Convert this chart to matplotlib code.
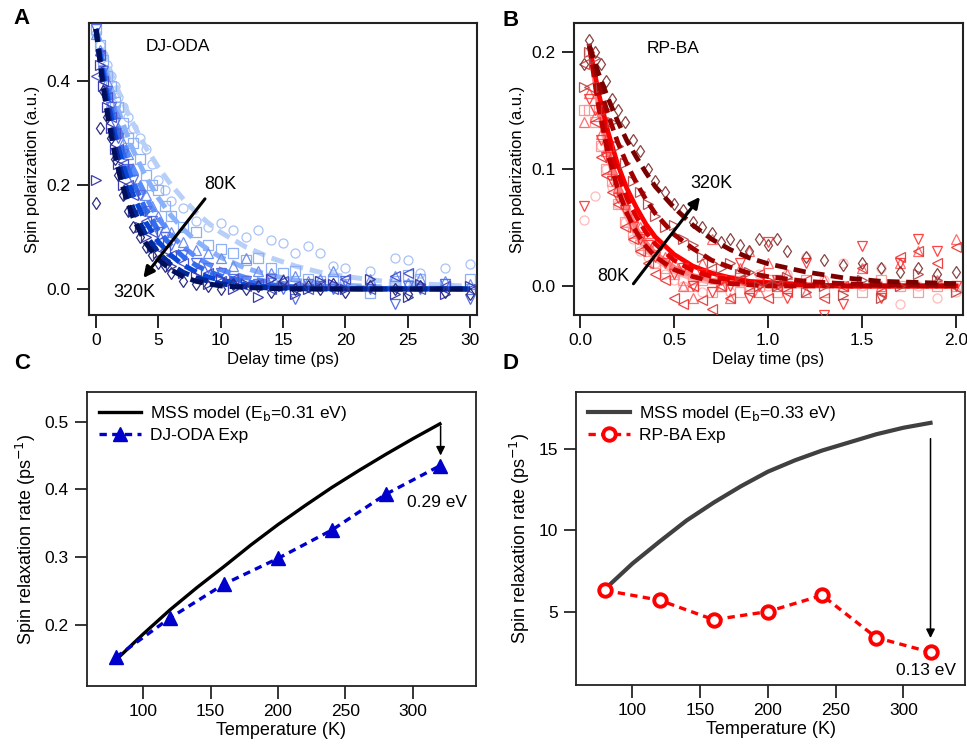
import matplotlib.pyplot as plt
from matplotlib.ticker import FormatStrFormatter

plt.rcParams['font.family'] = ['Liberation Sans', 'DejaVu Sans']

temps = [80, 120, 160, 200, 240, 280, 320]
markers = ['o', 's', '^', 'v', '<', '>', 'd']

# ---- panel A: DJ-ODA spin polarization vs delay time ----
delay_a = [0, 0.3, 0.6, 0.9, 1.2, 1.5, 1.8, 2.2, 2.6, 3.0, 3.5, 4.0, 4.5, 5.0, 5.5, 6.0,
           7, 8, 9, 10, 11, 12, 13, 14, 15, 16, 17, 18, 19, 20, 22, 24, 25, 26, 28, 30]
pol_a = {
    80: [0.49, 0.47, 0.45, 0.43, 0.41, 0.39, 0.37, 0.35, 0.33, 0.31, 0.29, 0.27, 0.24, 0.21, 0.19, 0.17,
         0.155, 0.13, 0.12, 0.127, 0.113, 0.10, 0.113, 0.095, 0.088, 0.07, 0.082, 0.07, 0.045, 0.04,
         0.035, 0.06, 0.056, 0.03, 0.04, 0.048],
    120: [0.5, 0.47, 0.44, 0.41, 0.39, 0.36, 0.35, 0.32, 0.29, 0.28, 0.25, 0.22, 0.2, 0.19, 0.16, 0.14,
          0.12, 0.11, 0.085, 0.077, 0.07, 0.055, 0.06, 0.04, 0.03, 0.035, 0.02, 0.015, 0.02, 0.01,
          -0.007, 0.015, 0.027, 0.02, 0.01, 0.02],
    160: [0.49, 0.46, 0.42, 0.40, 0.36, 0.34, 0.31, 0.28, 0.26, 0.23, 0.2, 0.18, 0.16, 0.14, 0.12, 0.11,
          0.09, 0.075, 0.07, 0.06, 0.045, 0.06, 0.035, 0.03, 0.02, 0.025, 0.015, 0.02, 0.035, 0.01,
          0.02, 0.025, 0.012, 0.022, 0.015, 0.01],
    200: [0.5, 0.45, 0.42, 0.38, 0.35, 0.32, 0.29, 0.26, 0.23, 0.21, 0.18, 0.15, 0.13, 0.11, 0.1, 0.085,
          0.065, 0.05, 0.04, 0.03, 0.02, 0.015, 0.01, 0.02, 0.0, -0.02, 0.01, 0.005, 0.0, 0.015,
          0.0, -0.028, 0.005, 0.0, 0.01, -0.02],
    240: [0.41, 0.45, 0.40, 0.37, 0.33, 0.30, 0.27, 0.24, 0.2, 0.18, 0.15, 0.13, 0.11, 0.09, 0.075, 0.065,
          0.05, 0.035, 0.03, 0.015, 0.02, 0.005, 0.01, 0.0, 0.015, 0.005, 0.0, 0.01, 0.0, 0.02,
          0.0, 0.025, 0.03, 0.0, 0.005, 0.0],
    280: [0.21, 0.43, 0.39, 0.35, 0.31, 0.27, 0.24, 0.2, 0.18, 0.15, 0.12, 0.1, 0.08, 0.07, 0.055, 0.045,
          0.03, 0.025, 0.01, 0.02, 0.0, 0.01, -0.015, 0.02, 0.005, -0.01, 0.0, 0.015, 0.01, 0.0,
          0.02, -0.01, -0.015, 0.01, -0.01, 0.005],
    320: [0.165, 0.31, 0.38, 0.33, 0.29, 0.25, 0.22, 0.18, 0.15, 0.12, 0.1, 0.08, 0.065, 0.05, 0.045, 0.03,
          0.015, 0.01, 0.005, 0.0, 0.01, 0.0, 0.005, -0.005, 0.015, 0.0, 0.005, 0.0, 0.01, -0.005,
          0.005, 0.0, -0.01, 0.005, -0.005, -0.01],
}
fit_t_a = [0, 0.5, 1, 1.5, 2, 2.5, 3, 4, 5, 6, 7, 8, 9, 10, 12, 14, 16, 18, 20, 23, 26, 30]
fit_a = {
    80: [0.5, 0.463, 0.429, 0.398, 0.369, 0.342, 0.317, 0.272, 0.234, 0.201, 0.173, 0.148, 0.127, 0.109,
         0.081, 0.060, 0.044, 0.032, 0.024, 0.015, 0.010, 0.005],
    120: [0.5, 0.450, 0.405, 0.365, 0.329, 0.296, 0.266, 0.216, 0.175, 0.142, 0.115, 0.093, 0.076, 0.061,
          0.040, 0.026, 0.017, 0.011, 0.007, 0.004, 0.002, 0.001],
    160: [0.5, 0.439, 0.386, 0.339, 0.297, 0.261, 0.229, 0.177, 0.136, 0.105, 0.081, 0.062, 0.048, 0.037,
          0.022, 0.013, 0.008, 0.005, 0.003, 0.001, 0.001, 0.0],
    200: [0.5, 0.431, 0.371, 0.320, 0.276, 0.237, 0.205, 0.152, 0.113, 0.084, 0.062, 0.046, 0.034, 0.025,
          0.014, 0.008, 0.004, 0.002, 0.001, 0.0, 0.0, 0.0],
    240: [0.5, 0.422, 0.356, 0.300, 0.253, 0.214, 0.180, 0.128, 0.091, 0.065, 0.046, 0.033, 0.023, 0.017,
          0.008, 0.004, 0.002, 0.001, 0.0, 0.0, 0.0, 0.0],
    280: [0.5, 0.411, 0.338, 0.277, 0.228, 0.187, 0.154, 0.104, 0.070, 0.047, 0.032, 0.022, 0.015, 0.010,
          0.004, 0.002, 0.001, 0.0, 0.0, 0.0, 0.0, 0.0],
    320: [0.5, 0.402, 0.324, 0.260, 0.209, 0.169, 0.136, 0.088, 0.057, 0.037, 0.024, 0.015, 0.010, 0.006,
          0.003, 0.001, 0.0, 0.0, 0.0, 0.0, 0.0, 0.0],
}

# ---- panel B: RP-BA spin polarization vs delay time ----
delay_b = [0.02, 0.05, 0.08, 0.11, 0.14, 0.17, 0.2, 0.24, 0.28, 0.32, 0.36, 0.4, 0.45, 0.5, 0.55, 0.6,
           0.65, 0.7, 0.75, 0.8, 0.85, 0.9, 0.95, 1.0, 1.05, 1.1, 1.2, 1.3, 1.4, 1.5, 1.6, 1.7, 1.8, 1.9, 2.0]
pol_b = {
    80: [0.056, 0.2, 0.077, 0.12, 0.1, 0.085, 0.07, 0.055, 0.04, 0.03, 0.025, 0.02, 0.01, 0.005, 0.0, 0.005,
         -0.005, 0.01, 0.0, -0.005, 0.005, 0.0, 0.01, 0.0, 0.005, 0.01, 0.025, 0.005, 0.02, 0.0, 0.015,
         -0.015, 0.0, -0.01, -0.005],
    120: [0.15, 0.15, 0.14, 0.12, 0.1, 0.09, 0.07, 0.055, 0.045, 0.035, 0.03, 0.02, 0.015, 0.01, 0.005, 0.0,
          0.005, -0.005, 0.0, 0.005, -0.005, 0.0, 0.0, 0.005, -0.005, 0.0, 0.005, -0.005, 0.0, -0.005,
          0.005, 0.0, -0.005, 0.0, 0.0],
    160: [0.14, 0.165, 0.145, 0.13, 0.115, 0.1, 0.085, 0.07, 0.06, 0.05, 0.045, 0.035, 0.025, 0.02, 0.0,
          -0.01, 0.02, 0.04, 0.0, -0.01, 0.015, 0.03, -0.005, 0.02, 0.0, 0.01, -0.005, 0.005, 0.0, 0.015,
          0.0, 0.02, 0.03, 0.005, 0.04],
    200: [0.068, 0.16, 0.15, 0.125, 0.11, 0.09, 0.075, 0.065, 0.05, 0.04, 0.035, 0.025, 0.02, 0.01, 0.015,
          0.0, 0.01, -0.005, 0.005, 0.0, 0.02, -0.01, 0.0, 0.038, 0.005, -0.01, 0.02, -0.025, -0.015, 0.034,
          -0.01, 0.02, 0.04, 0.03, 0.0],
    240: [0.19, 0.17, 0.14, 0.11, 0.095, 0.08, 0.07, 0.05, 0.04, 0.03, 0.02, 0.01, 0.005, -0.01, -0.015,
          0.0, -0.012, -0.02, 0.0, -0.01, 0.005, -0.005, 0.01, -0.01, 0.0, -0.005, 0.005, -0.01, 0.0, 0.015,
          -0.005, 0.025, 0.03, 0.02, 0.033],
    280: [0.17, 0.2, 0.195, 0.17, 0.15, 0.14, 0.12, 0.105, 0.09, 0.08, 0.07, 0.06, 0.05, 0.052, 0.04, 0.035,
          0.025, 0.02, 0.015, 0.02, 0.01, 0.012, 0.0, 0.005, 0.0, 0.008, -0.005, 0.0, -0.008, 0.005, -0.01,
          0.0, 0.01, 0.005, -0.005],
    320: [0.19, 0.21, 0.2, 0.19, 0.175, 0.16, 0.15, 0.14, 0.125, 0.115, 0.1, 0.09, 0.08, 0.07, 0.065, 0.055,
          0.05, 0.045, 0.038, 0.04, 0.035, 0.03, 0.04, 0.035, 0.04, 0.03, 0.025, 0.022, 0.018, 0.02, 0.015,
          0.012, 0.015, 0.01, 0.012],
}
fit_t_b = [0.05, 0.1, 0.15, 0.2, 0.25, 0.3, 0.35, 0.4, 0.5, 0.6, 0.7, 0.8, 0.9, 1.0, 1.2, 1.4, 1.6, 1.8, 2.0]
fit_b = {
    80: [0.205, 0.150, 0.109, 0.080, 0.058, 0.042, 0.031, 0.023, 0.012, 0.006, 0.003, 0.002, 0.001, 0.0,
         0.0, 0.0, 0.0, 0.0, 0.0],
    120: [0.205, 0.154, 0.116, 0.087, 0.066, 0.049, 0.037, 0.028, 0.016, 0.009, 0.005, 0.003, 0.002, 0.001,
          0.0, 0.0, 0.0, 0.0, 0.0],
    160: [0.205, 0.164, 0.131, 0.104, 0.083, 0.067, 0.053, 0.042, 0.027, 0.017, 0.011, 0.007, 0.004, 0.003,
          0.001, 0.0, 0.0, 0.0, 0.0],
    200: [0.205, 0.160, 0.124, 0.097, 0.075, 0.059, 0.046, 0.036, 0.022, 0.013, 0.008, 0.005, 0.003, 0.002,
          0.001, 0.0, 0.0, 0.0, 0.0],
    240: [0.205, 0.152, 0.112, 0.083, 0.062, 0.046, 0.034, 0.025, 0.014, 0.008, 0.004, 0.002, 0.001, 0.0,
          0.0, 0.0, 0.0, 0.0, 0.0],
    280: [0.205, 0.173, 0.146, 0.123, 0.104, 0.088, 0.074, 0.062, 0.044, 0.032, 0.022, 0.016, 0.011, 0.008,
          0.004, 0.002, 0.001, 0.001, 0.0],
    320: [0.205, 0.181, 0.160, 0.141, 0.124, 0.110, 0.097, 0.085, 0.067, 0.052, 0.040, 0.031, 0.024, 0.019,
          0.012, 0.007, 0.004, 0.003, 0.002],
}

# ---- panels C and D: relaxation rate vs temperature ----
model_temps = [80, 100, 120, 140, 160, 180, 200, 220, 240, 260, 280, 300, 320]
model_c = [0.148, 0.186, 0.222, 0.255, 0.286, 0.318, 0.348, 0.376, 0.403, 0.428, 0.452, 0.475, 0.497]
exp_c = [0.152, 0.21, 0.26, 0.298, 0.34, 0.393, 0.435]
model_d = [6.4, 7.95, 9.3, 10.6, 11.7, 12.7, 13.6, 14.3, 14.9, 15.4, 15.9, 16.3, 16.6]
exp_d = [6.3, 5.7, 4.5, 5.0, 6.0, 3.4, 2.5]

blue_pts = ['#a9c3f7', '#8fb0f5', '#6f8ff0', '#5670e6', '#4a55cc', '#3c3cae', '#2e2e80']
blue_fit = ['#b8d0f8', '#8ab2fb', '#5b8cfb', '#2f6cf0', '#0a46d6', '#00279c', '#000f5c']
red_pts = ['#ffb3b3', '#ff9090', '#ff5c5c', '#ff3030', '#e83030', '#b34040', '#7a3030']
red_fit = ['#ffb0b0', '#ff8080', '#ff0000', '#e00000', '#c00000', '#a00000', '#7a0000']
red_ls = ['-', '-', '-', '--', '--', '--', '--']

fig = plt.figure(figsize=(9.67, 7.48), dpi=100)
axA = fig.add_axes([0.0920, 0.5789, 0.4013, 0.3904])
axB = fig.add_axes([0.5936, 0.5789, 0.4023, 0.3904])
axC = fig.add_axes([0.0900, 0.0829, 0.4022, 0.3930])
axD = fig.add_axes([0.5957, 0.0843, 0.4023, 0.3917])

for i, T in enumerate(temps):
    axA.plot(delay_a, pol_a[T], linestyle='none', marker=markers[i], ms=6.5, mfc='none',
             mec=blue_pts[i], mew=0.9, zorder=2 + i)
    axA.plot(fit_t_a, fit_a[T], color=blue_fit[i], lw=3.6, dashes=(2.6, 1.4), zorder=2.5 + i)

for i, T in enumerate(temps):
    axB.plot(delay_b, pol_b[T], linestyle='none', marker=markers[i], ms=6.5, mfc='none',
             mec=red_pts[i], mew=0.9, alpha=0.9, zorder=2 + i)
    if red_ls[i] == '-':
        axB.plot(fit_t_b, fit_b[T], color=red_fit[i], lw=3.4, zorder=2.5 + i)
    else:
        axB.plot(fit_t_b, fit_b[T], color=red_fit[i], lw=3.4, dashes=(2.6, 1.4), zorder=2.5 + i)

lab_fs = 12
tick_fs = 12.5

axA.set_xlim(-0.56, 30.56)
axA.set_ylim(-0.05, 0.5115)
axA.set_xticks([0, 5, 10, 15, 20, 25, 30])
axA.set_yticks([0.0, 0.2, 0.4])
axA.yaxis.set_major_formatter(FormatStrFormatter('%.1f'))
axA.set_xlabel('Delay time (ps)', fontsize=lab_fs, labelpad=3)
axA.set_ylabel('Spin polarization (a.u.)', fontsize=lab_fs, labelpad=5)
axA.text(6.6, 0.466, 'DJ-ODA', fontsize=12.5, ha='center', va='center')
axA.annotate('', xy=(3.66, 0.017), xytext=(8.88, 0.1775),
             arrowprops=dict(arrowstyle='-|>', color='black', lw=2.2, mutation_scale=16), zorder=20)
axA.text(10.0, 0.2, '80K', fontsize=13, ha='center', va='center', zorder=20)
axA.text(3.1, -0.006, '320K', fontsize=13, ha='center', va='center', zorder=20)

axB.set_xlim(-0.032, 2.037)
axB.set_ylim(-0.0248, 0.2248)
axB.set_xticks([0.0, 0.5, 1.0, 1.5, 2.0])
axB.set_yticks([0.0, 0.1, 0.2])
axB.xaxis.set_major_formatter(FormatStrFormatter('%.1f'))
axB.yaxis.set_major_formatter(FormatStrFormatter('%.1f'))
axB.set_xlabel('Delay time (ps)', fontsize=lab_fs, labelpad=3)
axB.set_ylabel('Spin polarization (a.u.)', fontsize=lab_fs, labelpad=5)
axB.text(0.493, 0.203, 'RP-BA', fontsize=12.5, ha='center', va='center')
axB.annotate('', xy=(0.647, 0.078), xytext=(0.275, 0.0),
             arrowprops=dict(arrowstyle='-|>', color='black', lw=2.2, mutation_scale=16), zorder=20)
axB.text(0.265, 0.008, '80K', fontsize=13, ha='right', va='center', zorder=20)
axB.text(0.70, 0.088, '320K', fontsize=13, ha='center', va='center', zorder=20)

axC.plot(model_temps, model_c, color='black', lw=2.4, label='MSS model (E$_\\mathrm{b}$=0.31 eV)', zorder=3)
axC.plot(temps, exp_c, color='#0000cc', lw=2.4, dashes=(2.2, 1.6), marker='^', ms=10,
         mfc='#0000cc', mec='#0000cc', label='DJ-ODA Exp', zorder=4)
axC.annotate('', xy=(320.5, 0.446), xytext=(320.5, 0.498),
             arrowprops=dict(arrowstyle='-|>', color='black', lw=1.1, mutation_scale=13))
axC.text(318, 0.381, '0.29 eV', fontsize=12.5, ha='center', va='center')
axC.set_xlim(58.5, 346.7)
axC.set_ylim(0.1094, 0.544)
axC.set_xticks([100, 150, 200, 250, 300])
axC.set_yticks([0.2, 0.3, 0.4, 0.5])
axC.yaxis.set_major_formatter(FormatStrFormatter('%.1f'))
axC.set_xlabel('Temperature (K)', fontsize=13, labelpad=2)
axC.set_ylabel('Spin relaxation rate (ps$^{-1}$)', fontsize=13, labelpad=5)
axC.legend(loc='upper left', frameon=False, fontsize=12.5, handlelength=2.4,
           handletextpad=0.5, borderaxespad=0.3, labelspacing=0.25)

axD.plot(model_temps, model_d, color='#404040', lw=3.0, label='MSS model (E$_\\mathrm{b}$=0.33 eV)', zorder=3)
axD.plot(temps, exp_d, color='#ff0000', lw=2.4, dashes=(2.2, 1.6), marker='o', ms=9,
         mfc='white', mec='#ff0000', mew=2.8, label='RP-BA Exp', zorder=4)
axD.annotate('', xy=(320, 3.2), xytext=(320, 15.8),
             arrowprops=dict(arrowstyle='-|>', color='black', lw=1.1, mutation_scale=13))
axD.text(317, 1.4, '0.13 eV', fontsize=12.5, ha='center', va='center')
axD.set_xlim(58.4, 345.5)
axD.set_ylim(0.49, 18.5)
axD.set_xticks([100, 150, 200, 250, 300])
axD.set_yticks([5, 10, 15])
axD.set_xlabel('Temperature (K)', fontsize=13, labelpad=2)
axD.set_ylabel('Spin relaxation rate (ps$^{-1}$)', fontsize=13, labelpad=5)
axD.legend(loc='upper left', frameon=False, fontsize=12.5, handlelength=2.4,
           handletextpad=0.5, borderaxespad=0.3, labelspacing=0.25)

for ax in (axA, axB):
    for s in ax.spines.values():
        s.set_linewidth(1.5)
        s.set_color('#222222')
    ax.tick_params(direction='out', length=9, width=1.2, labelsize=tick_fs, pad=4)
for ax in (axC, axD):
    for s in ax.spines.values():
        s.set_linewidth(1.3)
        s.set_color('#222222')
    ax.tick_params(direction='out', length=9, width=1.1, labelsize=tick_fs, pad=4)

fig.text(22 / 967, 1 - 18 / 748, 'A', fontsize=16, fontweight='bold', ha='center', va='center')
fig.text(511 / 967, 1 - 20 / 748, 'B', fontsize=16, fontweight='bold', ha='center', va='center')
fig.text(22 / 967, 1 - 363 / 748, 'C', fontsize=16, fontweight='bold', ha='center', va='center')
fig.text(510 / 967, 1 - 363 / 748, 'D', fontsize=16, fontweight='bold', ha='center', va='center')

fig.savefig('out.png', dpi=100)
